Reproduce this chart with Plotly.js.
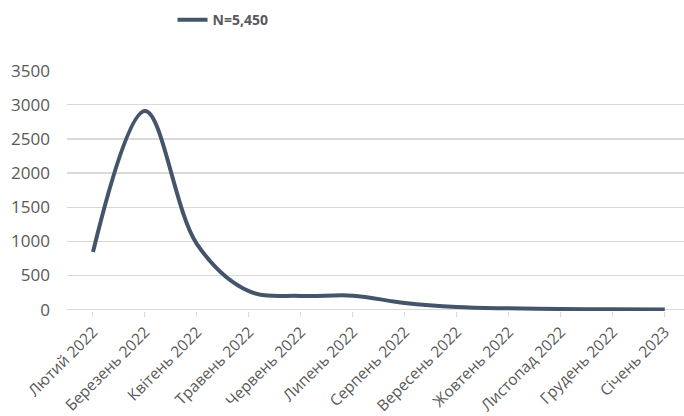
<!DOCTYPE html>
<html>
<head>
<meta charset="utf-8">
<script src="https://cdn.plot.ly/plotly-3.0.1.min.js"></script>
<style>html,body{margin:0;padding:0;background:#fff;}#chart{width:684px;height:416px;}</style>
</head>
<body>
<div id="chart"></div>
<script>
const months = ["Лютий 2022","Березень 2022","Квітень 2022","Травень 2022","Червень 2022","Липень 2022","Серпень 2022","Вересень 2022","Жовтень 2022","Листопад 2022","Грудень 2022","Січень 2023"];
const counts = [845, 2910, 960, 270, 200, 205, 97, 39, 19, 9, 5, 2];
const seriesName = "N=5,450";
const yTicks = [0, 500, 1000, 1500, 2000, 2500, 3000, 3500];

const trace = {
  x: months.map((m, i) => i),
  y: counts,
  type: 'scatter',
  mode: 'lines',
  name: seriesName,
  line: {color: '#44546A', width: 4, shape: 'spline', smoothing: 1},
  hoverinfo: 'skip'
};

const layout = {
  width: 684, height: 416,
  margin: {l: 66.7, r: 0, t: 69.6, b: 105.3},
  paper_bgcolor: '#fff', plot_bgcolor: '#fff',
  font: {family: 'Open Sans, sans-serif', color: '#595959'},
  showlegend: true,
  legend: {
    orientation: 'h', x: 0.171, xref: 'paper', xanchor: 'left', y: 0.99, yref: 'container', yanchor: 'top',
    font: {size: 14, color: '#595959', family: 'Open Sans, sans-serif', weight: 'bold'},
    itemwidth: 30, bgcolor: 'rgba(0,0,0,0)'
  },
  xaxis: {
    range: [-0.5, 11.37],
    tickmode: 'array', tickvals: months.map((m, i) => i), ticktext: months,
    tickangle: -45, tickson: 'boundaries', ticks: 'outside', ticklen: 5, tickcolor: '#d9d9d9',
    showgrid: false, zeroline: false, showline: false,
    tickfont: {size: 15.5, color: '#595959'}
  },
  yaxis: {
    range: [-20, 3510],
    tickmode: 'array', tickvals: yTicks,
    showgrid: true, gridcolor: '#d9d9d9', gridwidth: 1.3,
    zeroline: true, zerolinecolor: '#d9d9d9', zerolinewidth: 1.3,
    showline: false, ticks: '',
    tickfont: {size: 17, color: '#595959'}, ticklabelstandoff: 16
  }
};

Plotly.newPlot('chart', [trace], layout, {staticPlot: true, displayModeBar: false});
</script>
</body>
</html>
